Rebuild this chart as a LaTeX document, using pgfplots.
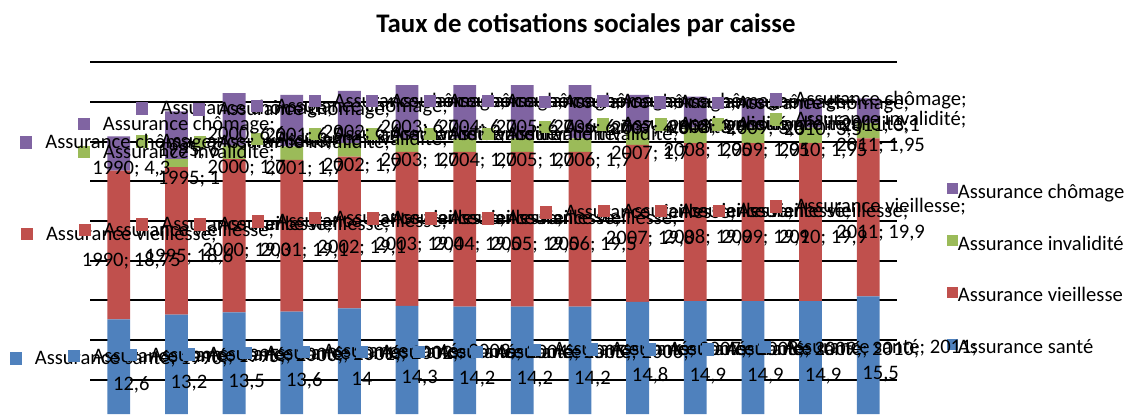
\documentclass[border=0pt]{standalone}
\usepackage{fontspec}
\setmainfont{Carlito}
\usepackage{pgfplots}
\pgfplotsset{compat=1.18}
\usepackage{pgfplotstable}
\definecolor{csante}{HTML}{4F81BD}
\definecolor{cvieil}{HTML}{C0504D}
\definecolor{cinval}{HTML}{9BBB59}
\definecolor{cchom}{HTML}{8064A2}
\pgfkeys{/pgf/number format/.cd, use comma, assume math mode=true, 1000 sep={}}

\pgfplotstableread{
x year sante vieil inval chom
0 1990 12.6 18.75 0 4.3
1 1995 13.2 18.6 1 6.0
2 2000 13.5 19.3 1.7 6.6
3 2001 13.6 19.1 1.7 6.5
4 2002 14 19.1 1.7 6.6
5 2003 14.3 19.4 1.7 6.7
6 2004 14.2 19.5 1.7 6.7
7 2005 14.2 19.5 1.7 6.7
8 2006 14.2 19.5 1.7 6.7
9 2007 14.8 19.8 1.7 4.6
10 2008 14.9 19.9 1.95 3.9
11 2009 14.9 19.9 1.95 3.6
12 2010 14.9 19.9 1.95 3.5
13 2011 15.5 19.9 1.95 3.1
}\data

\newcommand{\lab}[3]{\textcolor{#1}{\rule{6pt}{6.2pt}}\hspace{6.5pt}\begin{tabular}[t]{@{}c@{}}#2\\#3\end{tabular}}
\newcommand{\yrp}{\pgfmathprintnumber[fixed,precision=0]{\yr}}
\newcommand{\valp}{\pgfmathprintnumber[precision=2]{\val}}

\pgfplotsset{
  common/.style={
    at={(45pt,0pt)}, anchor=south west,
    scale only axis, width=403.5pt, height=175.9pt,
    xmin=-0.5, xmax=13.5, ymin=0.69, ymax=45,
  },
  labplot/.style={
    draw=none, mark=none,
    every node near coord/.append style={anchor=center, inner sep=0pt, text=black, fill=none, draw=none,
      yshift=-1.5pt, font=\fontsize{10.3pt}{13pt}\selectfont},
  },
}

\begin{document}
\begin{tikzpicture}
\path[use as bounding box] (0,0) rectangle (569.5pt,207pt);
\begin{axis}[common,
  ybar stacked, bar width=11.4pt,
  ytick={5,10,...,45}, yticklabels={}, xtick=\empty,
  ymajorgrids, grid style={black, line width=1pt},
  axis line style={draw=none}, tick style={draw=none},
  title={Taux de cotisations sociales par caisse},
  title style={at={(axis description cs:0.6146,1.071)}, anchor=center,
    font=\bfseries\fontsize{13.4pt}{16pt}\selectfont},
  reverse legend,
  legend image code/.code={\fill[#1] (0pt,-0.6pt) rectangle (5.6pt,5.0pt);},
  legend style={at={(axis description cs:1.061,0.408)}, anchor=west, draw=none, fill=none,
    inner sep=0pt, row sep=16.4pt, font=\fontsize{10.3pt}{12.5pt}\selectfont,
    nodes={inner sep=0pt, text height=7pt, text depth=2pt}},
  legend cell align=left,
]
\addplot[fill=csante, draw=none] table[x=x, y=sante]{\data};
\addplot[fill=cvieil, draw=none] table[x=x, y=vieil]{\data};
\addplot[fill=cinval, draw=none] table[x=x, y=inval]{\data};
\addplot[fill=cchom, draw=none] table[x=x, y=chom]{\data};
\legend{Assurance santé, Assurance vieillesse, Assurance invalidité, Assurance chômage}
\end{axis}
\begin{axis}[common, hide axis, clip=false]
\addplot[labplot,
  visualization depends on={\thisrow{year}\as\yr},
  visualization depends on={\thisrow{sante}\as\val},
  nodes near coords={\lab{csante}{Assurance santé; \yrp;}{\valp}}]
  table[x=x, y expr=\thisrow{sante}/2]{\data};
\addplot[labplot,
  visualization depends on={\thisrow{year}\as\yr},
  visualization depends on={\thisrow{vieil}\as\val},
  nodes near coords={\lab{cvieil}{Assurance vieillesse;}{\yrp; \valp}}]
  table[x=x, y expr=\thisrow{sante}+\thisrow{vieil}/2]{\data};
\addplot[labplot, skip coords between index={0}{1},
  visualization depends on={\thisrow{year}\as\yr},
  visualization depends on={\thisrow{inval}\as\val},
  nodes near coords={\lab{cinval}{Assurance invalidité;}{\yrp; \valp}}]
  table[x=x, y expr=\thisrow{sante}+\thisrow{vieil}+\thisrow{inval}/2]{\data};
\addplot[labplot,
  visualization depends on={\thisrow{year}\as\yr},
  visualization depends on={\thisrow{chom}\as\val},
  nodes near coords={\lab{cchom}{Assurance chômage;}{\yrp; \valp}}]
  table[x=x, y expr=\thisrow{sante}+\thisrow{vieil}+\thisrow{inval}+\thisrow{chom}/2]{\data};
\end{axis}
\end{tikzpicture}
\end{document}
